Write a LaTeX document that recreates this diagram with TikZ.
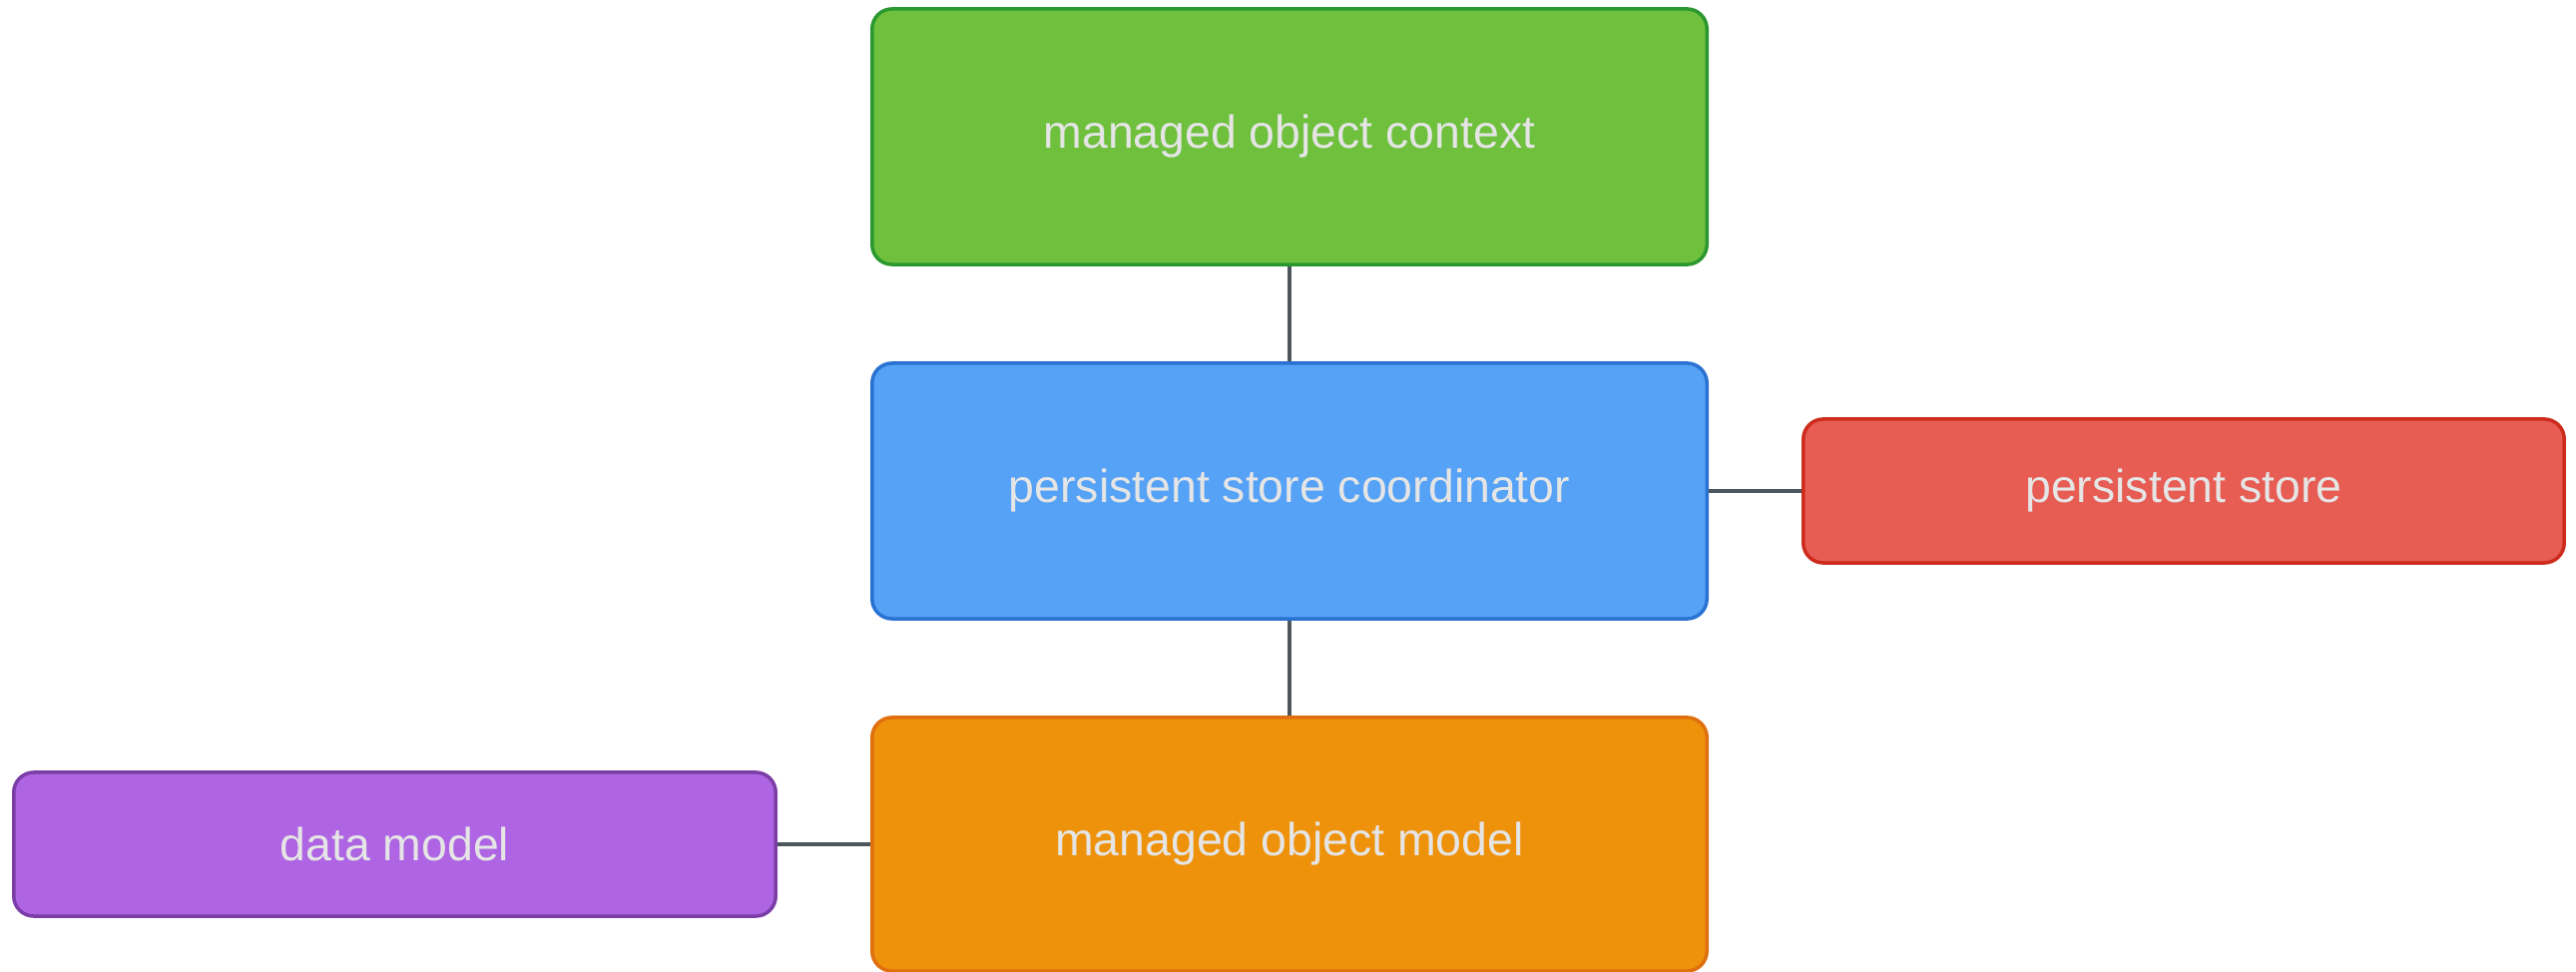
\documentclass[tikz,border=0pt]{standalone}
\usepackage{fontspec}
\setmainfont{Liberation Sans}
\begin{document}
\begin{tikzpicture}[x=0.01cm,y=-0.01cm,
  box/.style={draw, rounded corners=0.2cm, line width=0.035cm, inner sep=0pt,
    font=\fontsize{13.2}{16}\selectfont, text=white!90!black},
  link/.style={draw=linkgray, line width=0.045cm}]
\definecolor{linkgray}{HTML}{4D565C}
\definecolor{gfill}{HTML}{6EC03D}\definecolor{gline}{HTML}{2A982F}
\definecolor{bfill}{HTML}{55A2F6}\definecolor{bline}{HTML}{2A72D2}
\definecolor{rfill}{HTML}{E75C53}\definecolor{rline}{HTML}{CD2B1C}
\definecolor{ofill}{HTML}{EE920B}\definecolor{oline}{HTML}{E0700F}
\definecolor{pfill}{HTML}{AE64E3}\definecolor{pline}{HTML}{7A3EA6}
\useasboundingbox (0,0) rectangle (2581,974);

\node[box, fill=gfill, draw=gline, minimum width=8.36cm, minimum height=2.56cm]
  (moc) at (1292,137) {managed object context};
\node[box, fill=bfill, draw=bline, minimum width=8.36cm, minimum height=2.56cm]
  (psc) at (1292,492) {persistent store coordinator};
\node[box, fill=rfill, draw=rline, minimum width=7.62cm, minimum height=1.44cm]
  (ps) at (2188,492) {persistent store};
\node[box, fill=ofill, draw=oline, minimum width=8.36cm, minimum height=2.54cm]
  (mom) at (1292,846) {managed object model};
\node[box, fill=pfill, draw=pline, minimum width=7.63cm, minimum height=1.44cm]
  (dm) at (395.5,846) {data model};

\draw[link] (moc.south) -- (psc.north);
\draw[link] (psc.south) -- (mom.north);
\draw[link] (psc.east) -- (psc.east -| ps.west);
\draw[link] (dm.east) -- (dm.east -| mom.west);
\end{tikzpicture}
\end{document}
